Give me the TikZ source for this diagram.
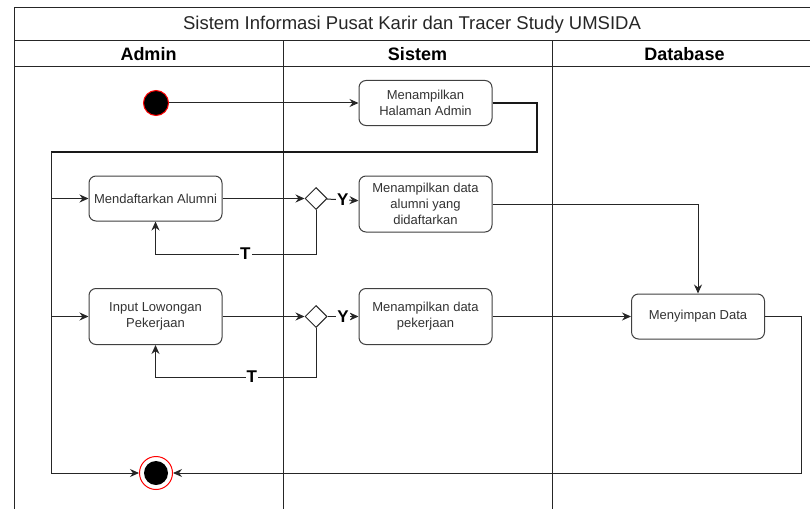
\documentclass[tikz,border=0pt]{standalone}
\usepackage{fontspec}
\setmainfont{Liberation Sans}
\usetikzlibrary{positioning, arrows.meta, shapes.geometric}

\begin{document}
\begin{tikzpicture}[x=1pt, y=-1pt, >={Stealth[length=9pt,width=8pt]},
    lane/.style={line width=1pt, draw=black!85},
    act/.style={draw=black!75, line width=1pt, rounded corners=7pt, fill=white,
        minimum width=133pt, minimum height=45pt, align=center, text=black!80,
        font=\fontsize{13}{16}\selectfont},
    flow/.style={->, line width=1pt, draw=black!85},
    decision/.style={diamond, draw=black!85, line width=1pt, fill=white,
        minimum width=22pt, minimum height=22pt, inner sep=0pt},
    lbl/.style={fill=white, inner sep=1pt, font=\bfseries\fontsize{17}{18}\selectfont},
    head/.style={font=\bfseries\fontsize{18}{20}\selectfont},
    startdot/.style={circle, fill=black, draw=red, line width=1pt, minimum size=25pt, inner sep=0pt},
    enddot/.style={circle, draw=red, fill=white, line width=1pt, minimum size=33pt, inner sep=0pt,
        path picture={\fill[black] (path picture bounding box.center) circle (12pt);}}]

\useasboundingbox (0,0) rectangle (810,508);
\clip (0,0) rectangle (810,508);

% Swimlanes
\draw[lane] (14,8) rectangle (821,41);
\draw[lane] (14,41) rectangle (821,67);
\draw[lane] (14,8) -- (14,510);
\foreach \x in {283,552}
    \draw[lane] (\x,41) -- (\x,510);

\node[font=\fontsize{18.5}{20}\selectfont, text=black!85] (title) at (412,24.5)
    {Sistem Informasi Pusat Karir dan Tracer Study UMSIDA};
\foreach \name/\x [count=\i] in {Admin/148.5, Sistem/417.5, Database/684.5}
    \node[head] (head\i) at (\x,54) {\name};

% Activities
\node[startdot] (start) at (156,103) {};
\node[act] (halaman) at (425.5,103) {Menampilkan\\Halaman Admin};
\node[act] (daftar) at (155.5,198.5) {Mendaftarkan Alumni};
\node[decision] (dec1) at (316,198.5) {};
\node[act, minimum height=56pt] (alumni) at (425.5,204) {Menampilkan data\\alumni yang\\didaftarkan};
\node[act, minimum height=56pt] (input) at (155.5,316.5) {Input Lowongan\\Pekerjaan};
\node[decision] (dec2) at (316,316.5) {};
\node[act, minimum height=56pt] (pekerjaan) at (425.5,316.5) {Menampilkan data\\pekerjaan};
\node[act] (simpan) at (698,316.5) {Menyimpan Data};
\node[enddot] (end) at (156,473) {};

\coordinate (barR) at (537,152);
\coordinate (barL) at (51,152);
\coordinate (loop1) at (316,254);
\coordinate (loop2) at (316,377);
\coordinate (cornerR) at (801,473);

% Connections
\draw[flow] (start) -- (halaman);
\draw[line width=2pt, draw=black!90] (halaman.east) -| (barR) -- (barL);
\draw[flow] (barL) |- (end);
\draw[flow] (barL |- daftar.west) -- (daftar.west);
\draw[flow] (barL |- input.west) -- (input.west);

\draw[flow] (daftar) -- (dec1);
\draw[flow] (dec1) -- node[lbl] {Y} (alumni);
\draw[flow] (dec1.south) -- (loop1) -| node[lbl, pos=0.22] {T} (daftar.south);

\draw[flow] (input) -- (dec2);
\draw[flow] (dec2) -- node[lbl] {Y} (pekerjaan);
\draw[flow] (dec2.south) -- (loop2) -| node[lbl, pos=0.2] {T} (input.south);

\draw[flow] (alumni.east) -| (simpan.north);
\draw[flow] (pekerjaan) -- (simpan);
\draw[flow] (simpan.east) -| (cornerR) -- (end);

\end{tikzpicture}
\end{document}
